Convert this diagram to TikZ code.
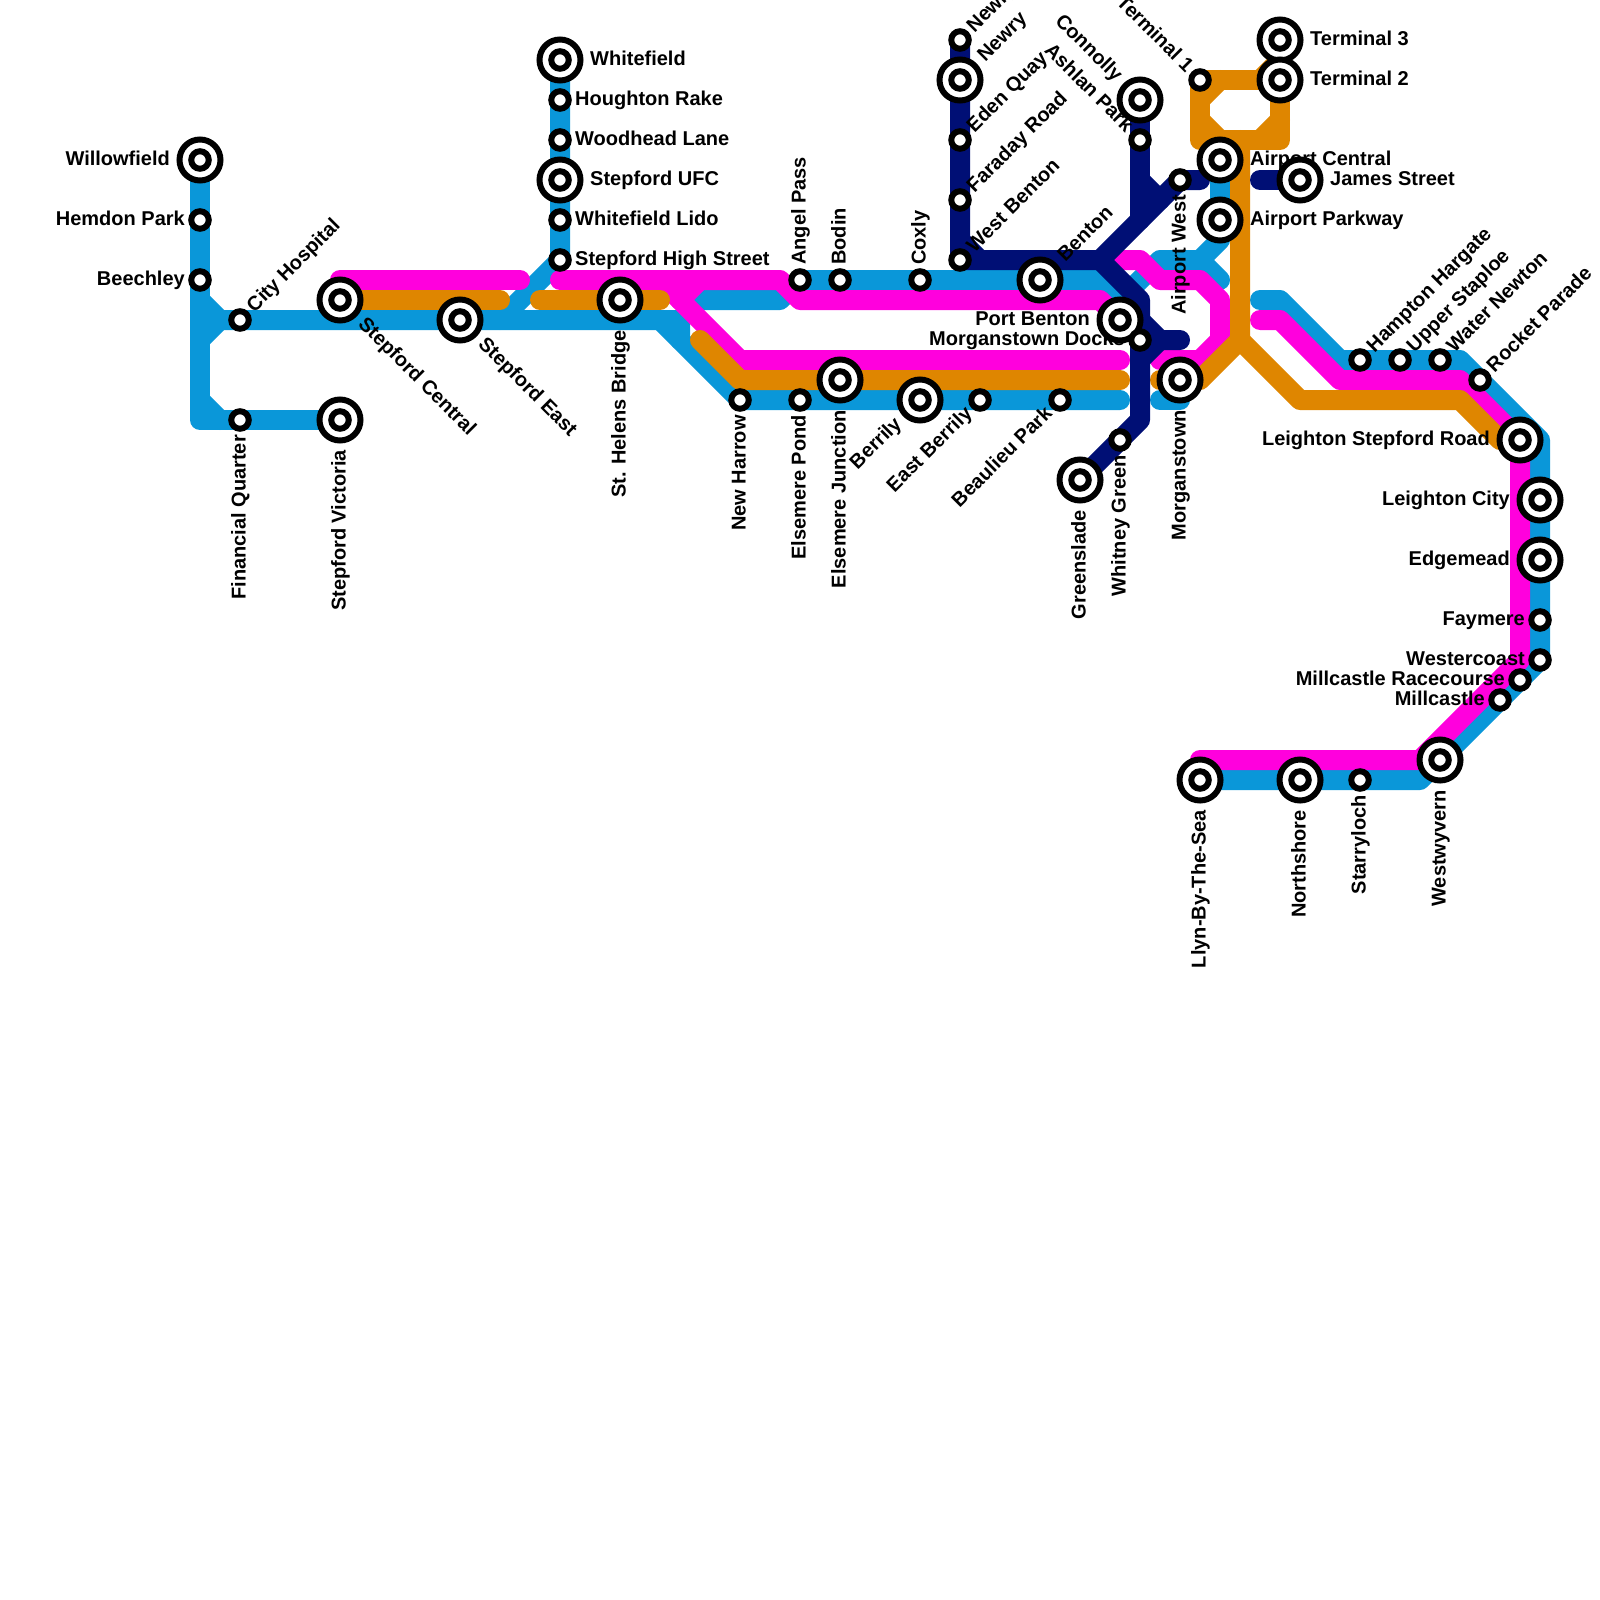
\documentclass[tikz,border=0pt]{standalone}
\usepackage{fontspec}
\setmainfont{Liberation Sans}
\usetikzlibrary{backgrounds}
\definecolor{bluelinecol}{HTML}{0A97D9}
\definecolor{magentalinecol}{HTML}{FF00DD}
\definecolor{orangelinecol}{HTML}{DF8600}
\definecolor{navylinecol}{HTML}{000F75}

\begin{document}
\begin{tikzpicture}[
  x=1pt, y=-1pt,
  font=\fontsize{20}{24}\selectfont\bfseries,
  stn/.style={circle, draw=black, fill=white, line width=6pt, minimum size=17.5pt, inner sep=0pt},
  bigstn/.style={stn, minimum size=41pt,
                 path picture={\draw[line width=6pt] (path picture bounding box.center) circle (8.75pt);}},
  route/.style={line width=20pt, line cap=round, line join=round},
  blueline/.style={route, draw=bluelinecol},
  magentaline/.style={route, draw=magentalinecol},
  orangeline/.style={route, draw=orangelinecol},
  navyline/.style={route, draw=navylinecol},
  tr/.style={inner sep=0pt, anchor=base west, xshift=#1, yshift=-5.5pt},
  tr/.default=15pt,
  tl/.style={inner sep=0pt, anchor=base east, xshift=-#1, yshift=-5.5pt},
  tl/.default=15pt,
  tu/.style={rotate=90, tr=#1}, tu/.default=15pt,
  td/.style={rotate=90, tl=#1}, td/.default=15pt,
  tne/.style={rotate=45, tr=#1}, tne/.default=15pt,
  tse/.style={rotate=-45, tr=#1}, tse/.default=15pt,
  tsw/.style={rotate=45, tl=#1}, tsw/.default=15pt,
  tnw/.style={rotate=-45, tl=#1}, tnw/.default=15pt
]
\useasboundingbox (0,0) rectangle (1600,1600);

% stations, west to east
\node[bigstn] (willowfield) at (200,160) {};
\node[stn] (hemdon) at (200,220) {};
\node[stn] (beechley) at (200,280) {};
\node[stn] (cityhospital) at (240,320) {};
\node[stn] (financial) at (240,420) {};
\node[bigstn] (victoria) at (340,420) {};
\node[bigstn] (central) at (340,300) {};
\node[bigstn] (east) at (460,320) {};
\node[bigstn] (whitefield) at (560,60) {};
\node[stn] (houghton) at (560,100) {};
\node[stn] (woodhead) at (560,140) {};
\node[bigstn] (ufc) at (560,180) {};
\node[stn] (lido) at (560,220) {};
\node[stn] (highstreet) at (560,260) {};
\node[bigstn] (sthelens) at (620,300) {};
\node[stn] (newharrow) at (740,400) {};
\node[stn] (pond) at (800,400) {};
\node[stn] (angel) at (800,280) {};
\node[stn] (bodin) at (840,280) {};
\node[bigstn] (junction) at (840,380) {};
\node[stn] (coxly) at (920,280) {};
\node[bigstn] (berrily) at (920,400) {};
\node[stn] (newx) at (960,40) {};
\node[bigstn] (newry) at (960,80) {};
\node[stn] (eden) at (960,140) {};
\node[stn] (faraday) at (960,200) {};
\node[stn] (westbenton) at (960,260) {};
\node[stn] (eastberrily) at (980,400) {};
\node[bigstn] (benton) at (1040,280) {};
\node[stn] (beaulieu) at (1060,400) {};
\node[bigstn] (greenslade) at (1080,480) {};
\node[bigstn] (portbenton) at (1120,320) {};
\node[stn] (whitney) at (1120,440) {};
\node[bigstn] (connolly) at (1140,100) {};
\node[stn] (ashlan) at (1140,140) {};
\node[stn] (docks) at (1140,340) {};
\node[stn] (airportwest) at (1180,180) {};
\node[bigstn] (morganstown) at (1180,380) {};
\node[stn] (terminala) at (1200,80) {};
\node[bigstn] (airportcentral) at (1220,160) {};
\node[bigstn] (parkway) at (1220,220) {};
\node[bigstn] (terminalc) at (1280,40) {};
\node[bigstn] (terminalb) at (1280,80) {};
\node[bigstn] (james) at (1300,180) {};
\node[stn] (hampton) at (1360,360) {};
\node[stn] (staploe) at (1400,360) {};
\node[stn] (newton) at (1440,360) {};
\node[stn] (rocket) at (1480,380) {};
\node[bigstn] (leighton) at (1520,440) {};
\node[bigstn] (leightoncity) at (1540,500) {};
\node[bigstn] (edgemead) at (1540,560) {};
\node[stn] (faymere) at (1540,620) {};
\node[stn] (westercoast) at (1540,660) {};
\node[stn] (racecourse) at (1520,680) {};
\node[stn] (millcastle) at (1500,700) {};
\node[bigstn] (westwyvern) at (1440,760) {};
\node[stn] (starryloch) at (1360,780) {};
\node[bigstn] (northshore) at (1300,780) {};
\node[bigstn] (llyn) at (1200,780) {};

% bends of the blue line
\coordinate (ba) at (200,300);
\coordinate (bb) at (220,320);
\coordinate (bc) at (200,340);
\coordinate (bd) at (200,400);
\coordinate (be) at (220,420);
\coordinate (bf) at (200,420);
\coordinate (bg) at (500,320);
\coordinate (bh) at (660,320);
\coordinate (bi) at (680,320);
\coordinate (bj) at (680,340);
\coordinate (bk) at (700,300);
\coordinate (bl) at (780,300);
\coordinate (bm) at (1120,400);
\coordinate (bn) at (1100,280);
\coordinate (bo) at (1120,300);
\coordinate (bp) at (1160,260);
\coordinate (bq) at (1200,260);
\coordinate (br) at (1220,240);
\coordinate (bs) at (1220,280);
\coordinate (bt) at (1160,400);
\coordinate (bu) at (1180,400);
\coordinate (bv) at (1260,300);
\coordinate (bw) at (1280,300);
\coordinate (bx) at (1340,360);
\coordinate (by) at (1460,360);
\coordinate (bz) at (1540,440);
\coordinate (bzz) at (1420,780);
% bends of the magenta line
\coordinate (ma) at (340,280);
\coordinate (mb) at (520,280);
\coordinate (mc) at (560,280);
\coordinate (md) at (780,280);
\coordinate (me) at (800,300);
\coordinate (mf) at (1100,300);
\coordinate (mg) at (660,280);
\coordinate (mh) at (680,300);
\coordinate (mi) at (700,280);
\coordinate (mj) at (740,360);
\coordinate (mk) at (1120,360);
\coordinate (ml) at (1120,260);
\coordinate (mm) at (1140,260);
\coordinate (mn) at (1160,280);
\coordinate (mo) at (1200,280);
\coordinate (mp) at (1220,300);
\coordinate (mq) at (1220,340);
\coordinate (mr) at (1200,360);
\coordinate (ms) at (1160,360);
\coordinate (mt) at (1260,320);
\coordinate (mu) at (1280,320);
\coordinate (mv) at (1340,380);
\coordinate (mw) at (1460,380);
\coordinate (mx) at (1520,660);
\coordinate (my) at (1420,760);
\coordinate (mz) at (1200,760);
% bends of the orange line
\coordinate (oa) at (500,300);
\coordinate (ob) at (540,300);
\coordinate (oc) at (660,300);
\coordinate (od) at (700,340);
\coordinate (oe) at (740,380);
\coordinate (of) at (1120,380);
\coordinate (og) at (1160,380);
\coordinate (oh) at (1200,380);
\coordinate (oi) at (1240,340);
\coordinate (oj) at (1240,140);
\coordinate (ok) at (1300,400);
\coordinate (ol) at (1460,400);
\coordinate (om) at (1500,440);
\coordinate (on) at (1200,140);
\coordinate (oo) at (1280,140);
\coordinate (op) at (1200,100);
\coordinate (oq) at (1220,80);
\coordinate (or) at (1200,120);
\coordinate (os) at (1220,140);
\coordinate (ot) at (1260,140);
\coordinate (ou) at (1280,120);
\coordinate (ov) at (1260,80);
\coordinate (ow) at (1280,60);
% bends of the navy line
\coordinate (na) at (960,240);
\coordinate (nb) at (980,260);
\coordinate (nc) at (1100,260);
\coordinate (nd) at (1200,180);
\coordinate (ne) at (1140,180);
\coordinate (nf) at (1160,200);
\coordinate (ng) at (1140,220);
\coordinate (nh) at (1140,300);
\coordinate (ni) at (1140,420);
\coordinate (nj) at (1140,320);
\coordinate (nk) at (1160,340);
\coordinate (nl) at (1180,340);
\coordinate (nm) at (1140,360);
\coordinate (nn) at (1260,180);

\begin{scope}[on background layer]
\draw[blueline] (willowfield.center) -- (bf) -- (victoria.center);
\draw[blueline] (ba) -- (bb) -- (bc);
\draw[blueline] (bd) -- (be);
\draw[blueline] (bb) -- (bi) -- (bj) -- (newharrow.center) -- (bm);
\draw[blueline] (bh) -- (bj);
\draw[blueline] (whitefield.center) -- (highstreet.center) -- (bg);
\draw[blueline] (bi) -- (bk) -- (bl) -- (angel.center) -- (bn) -- (bo) -- (bp) -- (bq) -- (br) -- (airportcentral.center);
\draw[blueline] (bq) -- (bs);
\draw[blueline] (bt) -- (bu);
\draw[blueline] (bv) -- (bw) -- (bx) -- (by) -- (bz) -- (westercoast.center) -- (bzz) -- (llyn.center);

\draw[magentaline] (ma) -- (mb);
\draw[magentaline] (mc) -- (md) -- (me) -- (mf) -- (portbenton.center);
\draw[magentaline] (mg) -- (mh) -- (mj) -- (mk);
\draw[magentaline] (mi) -- (mh);
\draw[magentaline] (ml) -- (mm) -- (mn) -- (mo) -- (mp) -- (mq) -- (mr) -- (ms);
\draw[magentaline] (mt) -- (mu) -- (mv) -- (mw) -- (leighton.center) -- (mx) -- (my) -- (mz);

\draw[orangeline] (central.center) -- (oa);
\draw[orangeline] (ob) -- (oc);
\draw[orangeline] (od) -- (oe) -- (of);
\draw[orangeline] (og) -- (oh) -- (oi) -- (oj);
\draw[orangeline] (oi) -- (ok) -- (ol) -- (om) -- (leighton.center);
\draw[orangeline] (terminala.center) -- (terminalb.center) -- (oo) -- (on) -- cycle;
\draw[orangeline] (op) -- (oq);
\draw[orangeline] (or) -- (os);
\draw[orangeline] (ot) -- (ou);
\draw[orangeline] (ov) -- (ow) -- (terminalc.center);

\draw[navyline] (newx.center) -- (westbenton.center) -- (nc) -- (airportwest.center) -- (nd);
\draw[navyline] (na) -- (nb);
\draw[navyline] (connolly.center) -- (ng);
\draw[navyline] (ne) -- (nf);
\draw[navyline] (nc) -- (nh) -- (ni) -- (greenslade.center);
\draw[navyline] (nj) -- (nk) -- (nl);
\draw[navyline] (nm) -- (nk);
\draw[navyline] (nn) -- (james.center);

% station names
\node[tl=30pt] (willowfield-t) at (willowfield.center) {Willowfield};
\node[tl] (hemdon-t) at (hemdon.center) {Hemdon Park};
\node[tl] (beechley-t) at (beechley.center) {Beechley};
\node[tne] (cityhospital-t) at (cityhospital.center) {City Hospital};
\node[td] (financial-t) at (financial.center) {Financial Quarter};
\node[td=30pt] (victoria-t) at (victoria.center) {Stepford Victoria};
\node[tse=30pt] (central-t) at (central.center) {Stepford Central};
\node[tse=30pt] (east-t) at (east.center) {Stepford East};
\node[tr=30pt] (whitefield-t) at (whitefield.center) {Whitefield};
\node[tr] (houghton-t) at (houghton.center) {Houghton Rake};
\node[tr] (woodhead-t) at (woodhead.center) {Woodhead Lane};
\node[tr=30pt] (ufc-t) at (ufc.center) {Stepford UFC};
\node[tr] (lido-t) at (lido.center) {Whitefield Lido};
\node[tr] (highstreet-t) at (highstreet.center) {Stepford High Street};
\node[td=30pt] (sthelens-t) at (sthelens.center) {St. Helens Bridge};
\node[td] (newharrow-t) at (newharrow.center) {New Harrow};
\node[td] (pond-t) at (pond.center) {Elsemere Pond};
\node[tu] (angel-t) at (angel.center) {Angel Pass};
\node[tu] (bodin-t) at (bodin.center) {Bodin};
\node[td=30pt] (junction-t) at (junction.center) {Elsemere Junction};
\node[tu] (coxly-t) at (coxly.center) {Coxly};
\node[tsw=30pt] (berrily-t) at (berrily.center) {Berrily};
\node[tne] (newx-t) at (newx.center) {Newry North};
\node[tne=30pt] (newry-t) at (newry.center) {Newry};
\node[tne] (eden-t) at (eden.center) {Eden Quay};
\node[tne] (faraday-t) at (faraday.center) {Faraday Road};
\node[tne] (westbenton-t) at (westbenton.center) {West Benton};
\node[tsw] (eastberrily-t) at (eastberrily.center) {East Berrily};
\node[tne=30pt] (benton-t) at (benton.center) {Benton};
\node[tsw] (beaulieu-t) at (beaulieu.center) {Beaulieu Park};
\node[td=30pt] (greenslade-t) at (greenslade.center) {Greenslade};
\node[tl=30pt] (portbenton-t) at (portbenton.center) {Port Benton};
\node[td] (whitney-t) at (whitney.center) {Whitney Green};
\node[tnw=30pt] (connolly-t) at (connolly.center) {Connolly};
\node[tnw] (ashlan-t) at (ashlan.center) {Ashlan Park};
\node[tl] (docks-t) at (docks.center) {Morganstown Docks};
\node[td] (airportwest-t) at (airportwest.center) {Airport West};
\node[td=30pt] (morganstown-t) at (morganstown.center) {Morganstown};
\node[tnw] (terminala-t) at (terminala.center) {Terminal 1};
\node[tr=30pt] (airportcentral-t) at (airportcentral.center) {Airport Central};
\node[tr=30pt] (parkway-t) at (parkway.center) {Airport Parkway};
\node[tr=30pt] (terminalc-t) at (terminalc.center) {Terminal 3};
\node[tr=30pt] (terminalb-t) at (terminalb.center) {Terminal 2};
\node[tr=30pt] (james-t) at (james.center) {James Street};
\node[tne] (hampton-t) at (hampton.center) {Hampton Hargate};
\node[tne] (staploe-t) at (staploe.center) {Upper Staploe};
\node[tne] (newton-t) at (newton.center) {Water Newton};
\node[tne] (rocket-t) at (rocket.center) {Rocket Parade};
\node[tl=30pt] (leighton-t) at (leighton.center) {Leighton Stepford Road};
\node[tl=30pt] (leightoncity-t) at (leightoncity.center) {Leighton City};
\node[tl=30pt] (edgemead-t) at (edgemead.center) {Edgemead};
\node[tl] (faymere-t) at (faymere.center) {Faymere};
\node[tl] (westercoast-t) at (westercoast.center) {Westercoast};
\node[tl] (racecourse-t) at (racecourse.center) {Millcastle Racecourse};
\node[tl] (millcastle-t) at (millcastle.center) {Millcastle};
\node[td=30pt] (westwyvern-t) at (westwyvern.center) {Westwyvern};
\node[td] (starryloch-t) at (starryloch.center) {Starryloch};
\node[td=30pt] (northshore-t) at (northshore.center) {Northshore};
\node[td=30pt] (llyn-t) at (llyn.center) {Llyn-By-The-Sea};
\end{scope}
\end{tikzpicture}
\end{document}
